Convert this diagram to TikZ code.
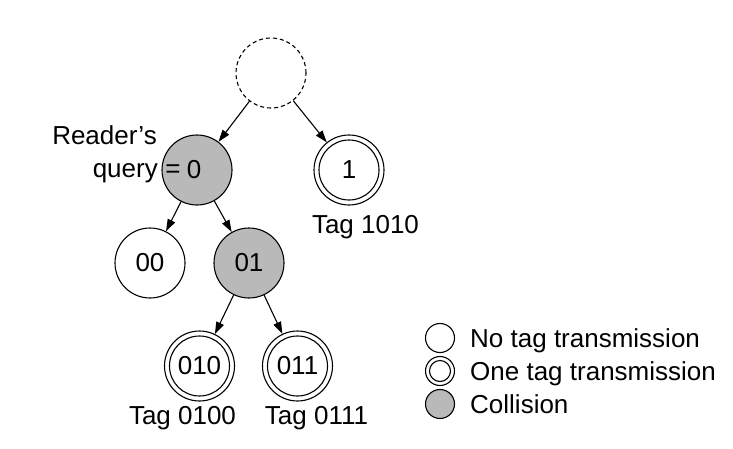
\documentclass[tikz,border=0pt]{standalone}
\usepackage{fontspec}
\setmainfont{Liberation Sans}
\usetikzlibrary{arrows.meta}
\definecolor{collgray}{RGB}{185,185,185}
\tikzset{
  tnode/.style={circle, draw, line width=1.1pt, minimum size=70pt, inner sep=0pt, font=\fontsize{26}{31}\selectfont},
  collnode/.style={tnode, fill=collgray},
  rootnode/.style={tnode, dash pattern=on 4pt off 3pt},
  txt/.style={inner sep=0pt, font=\fontsize{26}{31}\selectfont},
  edge/.style={line width=1.1pt, -{Triangle[length=12pt,width=8pt]}},
  legc/.style={line width=1.1pt},
}
\begin{document}
\begin{tikzpicture}[x=1pt,y=-1pt]
\path[use as bounding box] (0,0) rectangle (733,448);
% tree nodes
\node[rootnode] (root) at (271,73) {};
\node[collnode] (n0) at (197,170) {};
\node[txt] (zero) at (194,170) {0};
\node[tnode] (n1) at (349,170) {1};
\node[tnode] (n00) at (150,263) {00};
\node[collnode] (n01) at (249,263) {01};
\node[tnode] (n010) at (199.5,366) {010};
\node[tnode] (n011) at (297.5,366) {011};
% inner rings of the double circles
\draw[line width=1.1pt] (n1.center) circle[radius=30];
\draw[line width=1.1pt] (n010.center) circle[radius=30];
\draw[line width=1.1pt] (n011.center) circle[radius=30];
% edges
\draw[edge] (root) -- (n0);
\draw[edge] (root) -- (n1);
\draw[edge] (n0) -- (n00);
\draw[edge] (n0) -- (n01);
\draw[edge] (n01) -- (n010);
\draw[edge] (n01) -- (n011);
% labels
\node[txt, anchor=base east] (reader) at (157,144) {Reader’s};
\node[txt, anchor=base east] (query) at (158,177) {query};
\node[txt, anchor=base] (eq) at (173,177) {=};
\node[txt, anchor=base] (tag1010) at (365.5,233) {Tag 1010};
\node[txt, anchor=base] (tag0100) at (182.5,424) {Tag 0100};
\node[txt, anchor=base] (tag0111) at (316.5,424) {Tag 0111};
% legend
\node[legc, circle, draw, minimum size=29pt, inner sep=0pt] (l1) at (440,338) {};
\node[legc, circle, draw, minimum size=29pt, inner sep=0pt] (l2) at (440,371) {};
\draw[legc] (l2.center) circle[radius=10.5];
\node[legc, circle, draw, fill=collgray, minimum size=29pt, inner sep=0pt] (l3) at (440,404) {};
\node[txt, anchor=base west] (t1) at (470,347) {No tag transmission};
\node[txt, anchor=base west] (t2) at (470,380) {One tag transmission};
\node[txt, anchor=base west] (t3) at (470,413) {Collision};
\end{tikzpicture}
\end{document}
